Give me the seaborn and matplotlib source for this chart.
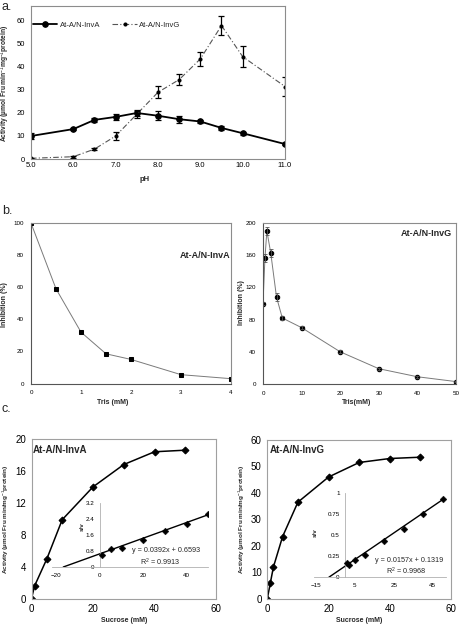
import numpy as np
import pandas as pd
import seaborn as sns
import matplotlib
matplotlib.use("Agg")
import matplotlib.pyplot as plt

# ---------------- data ----------------
ph = [5.0, 6.0, 6.5, 7.0, 7.5, 8.0, 8.5, 9.0, 9.5, 10.0, 11.0]
invA_act = [10.0, 13.0, 17.0, 18.3, 20.0, 18.8, 17.3, 16.3, 13.5, 11.2, 6.5]
invA_err = [1.2, 0.5, 0.8, 1.2, 1.2, 2.0, 1.5, 0.5, 0.7, 0.7, 0.5]
invG_act = [0.3, 1.0, 4.3, 10.0, 19.5, 29.0, 34.5, 43.5, 58.0, 44.5, 31.5]
invG_err = [0.2, 0.5, 0.6, 1.8, 1.5, 2.7, 2.3, 3.2, 4.0, 4.5, 4.3]

trisA = [0, 0.5, 1, 1.5, 2, 3, 4]
inhibA = [100, 59, 32, 18.5, 15, 5.5, 3]
trisG = [0, 0.5, 1, 2, 3.5, 5, 10, 20, 30, 40, 50]
inhibG = [100, 156, 190, 163, 108, 82, 70, 40, 19, 9, 3]
inhibG_err = [2, 5, 5, 5, 5, 3, 2, 2, 1, 1, 1]

sucA = [0, 1, 5, 10, 20, 30, 40, 50]
actA = [0, 1.6, 5.0, 9.9, 14.0, 16.8, 18.4, 18.6]
sA = [1, 5, 10, 20, 30, 40, 50]
svA = [0.62, 0.92, 0.95, 1.35, 1.80, 2.15, 2.65]
slopeA, interA = 0.0392, 0.6593

sucG = [0, 1, 2, 5, 10, 20, 30, 40, 50]
actG = [0, 6.0, 12.0, 23.5, 36.5, 46.0, 51.5, 53.0, 53.5]
sG = [1, 2, 5, 10, 20, 30, 40, 50]
svG = [0.165, 0.15, 0.20, 0.26, 0.43, 0.57, 0.75, 0.92]
slopeG, interG = 0.0157, 0.1319

# ---------------- style ----------------
sns.set_theme(style="white")
plt.rcParams["font.family"] = ["Liberation Sans", "DejaVu Sans"]
plt.rcParams["mathtext.fontset"] = "custom"
plt.rcParams["mathtext.rm"] = "Liberation Sans"
plt.rcParams["mathtext.it"] = "Liberation Sans:italic"
plt.rcParams["mathtext.bf"] = "Liberation Sans:bold"

W, H = 459, 627
fig = plt.figure(figsize=(W / 100, H / 100), dpi=100)
fig.patch.set_facecolor("white")
GRAY = "#8c8c8c"


def add_ax(l, t, r, b):
    return fig.add_axes([l / W, 1 - b / H, (r - l) / W, (b - t) / H])


def fx(x):
    return x / W


def fy(y):
    return 1 - y / H


def frame(ax, color=GRAY, lw=0.8):
    for s in ax.spines.values():
        s.set_visible(True)
        s.set_color(color)
        s.set_linewidth(lw)


# ---------------- panel a ----------------
axa = add_ax(31, 6, 285, 159)
dfA = pd.DataFrame({"pH": ph, "act": invA_act})
dfG = pd.DataFrame({"pH": ph, "act": invG_act})
sns.lineplot(data=dfA, x="pH", y="act", ax=axa, color="black", lw=1.3,
             marker="o", markersize=4, markeredgecolor="black",
             label="At-A/N-InvA", errorbar=None)
sns.lineplot(data=dfG, x="pH", y="act", ax=axa, color="#555555", lw=0.8,
             linestyle=(0, (5, 2, 1, 2)), marker="o", markersize=2.2,
             markeredgecolor="black", markerfacecolor="black",
             label="At-A/N-InvG", errorbar=None)
axa.errorbar(ph, invA_act, yerr=invA_err, fmt="none", ecolor="black",
             elinewidth=0.9, capsize=2, capthick=0.9)
axa.errorbar(ph, invG_act, yerr=invG_err, fmt="none", ecolor="black",
             elinewidth=0.9, capsize=2, capthick=0.9)
axa.set_xlim(5.0, 11.0)
axa.set_ylim(0, 66.5)
axa.set_xticks(np.arange(5, 11.01, 1.0))
axa.set_xticklabels([f"{v:.1f}" for v in np.arange(5, 11.01, 1.0)])
axa.set_yticks(range(0, 61, 10))
axa.tick_params(labelsize=5.5, length=2, width=0.6, pad=2.5, colors="black")
axa.tick_params(axis="x", direction="in")
frame(axa)
axa.set_xlabel("pH", fontsize=5.5, fontweight="bold")
axa.xaxis.set_label_coords(fx(145), fy(176), transform=fig.transFigure)
axa.set_ylabel("Activity (µmol Fru min$^{-1}$mg$^{-1}$protein)", fontsize=4.8,
               fontweight="bold")
axa.yaxis.set_label_coords(fx(12.5), fy(83), transform=fig.transFigure)
axa.legend(loc="center left", bbox_to_anchor=(fx(33), fy(25)),
           bbox_transform=fig.transFigure, ncol=2, frameon=False,
           fontsize=5.5, handlelength=3.2, columnspacing=1.6,
           handletextpad=0.3, borderpad=0, borderaxespad=0)
fig.text(fx(2), fy(1), "a.", fontsize=9, va="top", ha="left")

# ---------------- panel b ----------------
axb1 = add_ax(31, 223, 231, 383.5)
sns.lineplot(x=trisA, y=inhibA, ax=axb1, color="#7a7a7a", lw=0.7,
             marker="s", markersize=2.3, markeredgecolor="black",
             markerfacecolor="black", errorbar=None)
axb1.set_xlim(0, 4)
axb1.set_ylim(0, 100)
axb1.set_xticks(range(0, 5))
axb1.set_yticks(range(0, 101, 20))
axb1.tick_params(labelsize=4.5, length=2, width=0.6, pad=3, colors="black")
frame(axb1)
axb1.spines["left"].set_color("#555555")
axb1.spines["bottom"].set_color("#555555")
axb1.set_xlabel("Tris (mM)", fontsize=5, fontweight="bold")
axb1.xaxis.set_label_coords(fx(113), fy(399), transform=fig.transFigure)
axb1.set_ylabel("Inhibition (%)", fontsize=5, fontweight="bold")
axb1.yaxis.set_label_coords(fx(8.5), fy(305), transform=fig.transFigure)
fig.text(fx(230), fy(255), "At-A/N-InvA", fontsize=6.5, fontweight="bold",
         ha="right", va="center")
fig.text(fx(2), fy(205), "b.", fontsize=9, va="top", ha="left")

axb2 = add_ax(263, 223, 456, 384)
sns.lineplot(x=trisG, y=inhibG, ax=axb2, color="#7a7a7a", lw=0.7,
             marker="o", markersize=3.2, markeredgecolor="black",
             markerfacecolor="black", errorbar=None)
axb2.errorbar(trisG, inhibG, yerr=inhibG_err, fmt="none", ecolor="#555555",
              elinewidth=0.6, capsize=1.5, capthick=0.6)
axb2.set_xlim(0, 50)
axb2.set_ylim(0, 200)
axb2.set_xticks(range(0, 51, 10))
axb2.set_yticks(range(0, 201, 40))
axb2.tick_params(labelsize=4.5, length=2, width=0.6, pad=3, colors="black")
frame(axb2)
axb2.spines["left"].set_color("#555555")
axb2.spines["bottom"].set_color("#555555")
axb2.set_xlabel("Tris(mM)", fontsize=5, fontweight="bold")
axb2.xaxis.set_label_coords(fx(357), fy(399), transform=fig.transFigure)
axb2.set_ylabel("Inhibition (%)", fontsize=5, fontweight="bold")
axb2.yaxis.set_label_coords(fx(245), fy(303), transform=fig.transFigure)
fig.text(fx(452), fy(233), "At-A/N-InvG", fontsize=6.5, fontweight="bold",
         ha="right", va="center")

# ---------------- panel c ----------------
def kinetics(l, t, r, b, suc, act, ymax, ystep, title, tx, ylab_x):
    ax = add_ax(l, t, r, b)
    sns.lineplot(x=suc, y=act, ax=ax, color="black", lw=1.1, marker="D",
                 markersize=3.5, markeredgecolor="black",
                 markerfacecolor="black", errorbar=None)
    ax.set_xlim(0, 60)
    ax.set_ylim(0, ymax)
    ax.set_xticks(range(0, 61, 20))
    ax.set_yticks(np.arange(0, ymax + 0.01, ystep))
    ax.set_yticklabels([f"{v:g}" for v in np.arange(0, ymax + 0.01, ystep)])
    ax.tick_params(labelsize=7, length=2, width=0.6, pad=2, colors="black")
    frame(ax, color="#a0a0a0", lw=0.8)
    ax.set_xlabel("Sucrose (mM)", fontsize=5, fontweight="bold")
    ax.xaxis.set_label_coords(fx((l + r) / 2), fy(617),
                              transform=fig.transFigure)
    ax.set_ylabel("Activity (µmol Fru min/mg$^{-1}$protein)", fontsize=4.6,
                  fontweight="bold")
    ax.yaxis.set_label_coords(fx(ylab_x), fy(519), transform=fig.transFigure)
    fig.text(fx(tx), fy(450), title, fontsize=7, fontweight="bold",
             ha="left", va="center")
    return ax


def inset(l, t, r, b, xs, ys, slope, inter, xlim, ylim, xt, yt, ytl,
          eq_pos, r_pos, eq, rr, sv_pos):
    ax = add_ax(l, t, r, b)
    ax.patch.set_alpha(0)
    x0 = -inter / slope
    xl = np.array([x0, max(xs)])
    ax.plot(xl, slope * xl + inter, color="black", lw=1.0)
    sns.scatterplot(x=xs, y=ys, ax=ax, marker="D", s=12, color="black",
                    edgecolor="black", zorder=3)
    ax.set_xlim(*xlim)
    ax.set_ylim(*ylim)
    for s in ["top", "right"]:
        ax.spines[s].set_visible(False)
    ax.spines["left"].set_position(("data", 0))
    ax.spines["bottom"].set_position(("data", 0))
    for s in ["left", "bottom"]:
        ax.spines[s].set_color("#b0b0b0")
        ax.spines[s].set_linewidth(0.6)
    ax.set_xticks(xt)
    ax.set_yticks(yt)
    ax.set_yticklabels(ytl)
    ax.tick_params(labelsize=4.5, length=1.5, width=0.5, pad=2.5,
                   colors="black")
    ax.tick_params(axis="both", color="#b0b0b0")
    ax.set_ylabel("s/v", fontsize=4.5, fontweight="bold")
    ax.yaxis.set_label_coords(fx(sv_pos[0]), fy(sv_pos[1]),
                              transform=fig.transFigure)
    fig.text(fx(eq_pos[0]), fy(eq_pos[1]), eq, fontsize=5.2, ha="center",
             va="center")
    fig.text(fx(r_pos[0]), fy(r_pos[1]), rr, fontsize=5.2, ha="center",
             va="center")
    return ax


axc1 = kinetics(31.5, 439, 216, 598.7, sucA, actA, 20, 4, "At-A/N-InvA",
                33, 11)
inset(52, 503, 208.5, 567, sA, svA, slopeA, interA, (-22, 50), (0, 3.2),
      [-20, 0, 20, 40], [0, 0.8, 1.6, 2.4, 3.2],
      ["0", "0.8", "1.6", "2.4", "3.2"], (166, 550), (160, 562),
      "y = 0.0392x + 0.6593", "R$^2$ = 0.9913", (85, 527))
fig.text(fx(2), fy(403), "c.", fontsize=9, va="top", ha="left")

axc2 = kinetics(267.3, 440, 451, 598.7, sucG, actG, 60, 10, "At-A/N-InvG",
                270, 247)
inset(314, 492.7, 446.4, 577.3, sG, svG, slopeG, interG, (-16, 52), (0, 1),
      [-15, 5, 25, 45], [0, 0.25, 0.5, 0.75, 1],
      ["0", "0.25", "0.5", "0.75", "1"], (409, 560.7), (406, 571),
      "y = 0.0157x + 0.1319", "R$^2$ = 0.9968", (318, 533))

fig.savefig("out.png", dpi=100, facecolor="white")
